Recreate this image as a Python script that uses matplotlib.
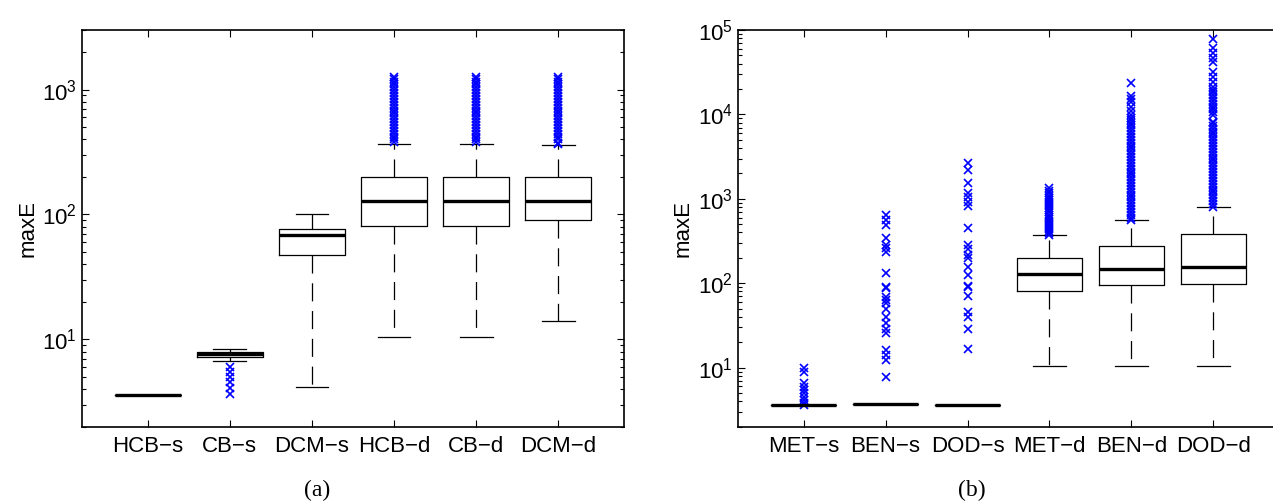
import matplotlib
matplotlib.use("Agg")
import matplotlib.pyplot as plt
from matplotlib.ticker import LogLocator, NullFormatter

plt.rcParams['font.family'] = ['Liberation Sans', 'DejaVu Sans']
plt.rcParams['mathtext.fontset'] = 'custom'
plt.rcParams['mathtext.rm'] = 'Liberation Sans'
plt.rcParams['lines.scale_dashes'] = False

# ---- panel (a) ----
labels_a = ['HCB\u2212s', 'CB\u2212s', 'DCM\u2212s', 'HCB\u2212d', 'CB\u2212d', 'DCM\u2212d']
q1_a = [3.58, 7.18, 47, 81, 81, 90]
med_a = [3.58, 7.62, 67.9, 128, 128, 128]
q3_a = [3.58, 7.96, 76.2, 199, 199, 199]
lo_a = [3.58, 6.7, 4.18, 10.5, 10.5, 14.1]
hi_a = [3.58, 8.36, 100, 370, 370, 358]
dense_a = [380, 400, 420, 445, 470, 495, 520, 550, 580, 610, 645, 680, 715, 755,
           795, 840, 885, 935, 985, 1040, 1100, 1160, 1220, 1264]
fliers_a = [
    [],
    [6.04, 5.5, 5.02, 4.58, 4.05, 3.63],
    [],
    dense_a,
    dense_a,
    [366, 372] + dense_a[1:],
]

# ---- panel (b) ----
labels_b = ['MET\u2212s', 'BEN\u2212s', 'DOD\u2212s', 'MET\u2212d', 'BEN\u2212d', 'DOD\u2212d']
q1_b = [3.6, 3.75, 3.6, 81.8, 96.4, 99]
med_b = [3.6, 3.75, 3.6, 129, 149, 157]
q3_b = [3.6, 3.75, 3.6, 199.5, 279, 383]
lo_b = [3.6, 3.75, 3.6, 10.5, 10.5, 10.5]
hi_b = [3.6, 3.75, 3.6, 373, 557, 806]
fliers_b = [
    [9.8, 9.0, 6.5, 5.9, 5.4, 5.0, 4.5, 4.1, 3.8, 3.65],
    [643, 561, 490, 341, 284, 259, 236, 131, 91, 87, 69, 63, 58, 50, 40, 33.5,
     29, 25.5, 16.2, 14.1, 12.3, 7.8],
    [2636, 2198, 1528, 1184, 1042, 926, 824, 448, 284, 253, 216, 198, 157, 125,
     93, 90, 71, 46, 40, 29, 16.5],
    [375, 395, 415, 440, 465, 490, 520, 550, 580, 615, 650, 690, 730, 775, 820,
     870, 920, 975, 1030, 1090, 1160, 1230, 1330],
    [560, 600, 650, 700, 760, 820, 890, 960, 1040, 1120, 1210, 1310, 1420, 1540,
     1660, 1800, 1950, 2100, 2280, 2460, 2660, 2880, 3120, 3370, 3650, 3950,
     4270, 4620, 5000, 5400, 5850, 6330, 6850, 7400, 8000, 8650, 9000, 9840,
     10900, 12300, 13900, 15200, 16700, 23300],
    [810, 870, 940, 1020, 1100, 1190, 1290, 1400, 1510, 1640, 1770, 1920, 2080,
     2250, 2430, 2630, 2850, 3080, 3330, 3610, 3900, 4220, 4570, 4950, 5350,
     5790, 6270, 6780, 7340, 7940, 8200, 9840, 10600, 11500, 12400, 13400,
     14500, 15700, 17000, 18300, 19400, 21300, 24400, 28000, 32100, 42200,
     46200, 53000, 60600, 77500],
]


def draw(ax, labels, q1, med, q3, lo, hi, fliers, ylim, caption, right=True):
    stats = []
    for i in range(len(labels)):
        stats.append(dict(label=labels[i], q1=q1[i], med=med[i], q3=q3[i],
                          whislo=lo[i], whishi=hi[i], fliers=fliers[i]))
    ax.bxp(stats, positions=range(1, 7), widths=0.8, capwidths=0.4,
           boxprops=dict(color='black', lw=0.9),
           medianprops=dict(color='black', lw=2.4, solid_capstyle='butt'),
           whiskerprops=dict(color='black', lw=0.9, linestyle=(0, (13, 7))),
           capprops=dict(color='black', lw=0.9),
           flierprops=dict(marker='x', markeredgecolor='blue', markersize=5.5,
                           markeredgewidth=1.2, linestyle='none'))
    ax.set_yscale('log')
    ax.set_ylim(*ylim)
    ax.set_xlim(0.2, 6.8)
    ax.yaxis.set_major_locator(LogLocator(base=10))
    ax.yaxis.set_minor_locator(LogLocator(base=10, subs=range(2, 10)))
    ax.yaxis.set_minor_formatter(NullFormatter())
    ax.tick_params(which='both', direction='in', top=True, right=right,
                   labelsize=16, width=0.8)
    ax.tick_params(which='major', length=5)
    ax.tick_params(which='minor', length=3)
    ax.tick_params(axis='x', pad=7)
    for s in ax.spines.values():
        s.set_linewidth(1.2)
    ax.set_ylabel('maxE', fontsize=16, labelpad=3)
    fig.text(caption[1], 1 - 501 / 503, caption[0], ha='center', va='bottom',
             fontsize=17, family='Liberation Serif')


fig = plt.figure(figsize=(12.73, 5.03), dpi=100)
ax1 = fig.add_axes([82 / 1273, 1 - 426.7 / 503, 542 / 1273, 396.7 / 503])
ax2 = fig.add_axes([738 / 1273, 1 - 426.7 / 503, 541 / 1273, 396.7 / 503])

draw(ax1, labels_a, q1_a, med_a, q3_a, lo_a, hi_a, fliers_a, (2, 3000), ('(a)', 317 / 1273))
draw(ax2, labels_b, q1_b, med_b, q3_b, lo_b, hi_b, fliers_b, (2, 1e5), ('(b)', 972 / 1273),
     right=False)

fig.savefig('out.png', dpi=100)
